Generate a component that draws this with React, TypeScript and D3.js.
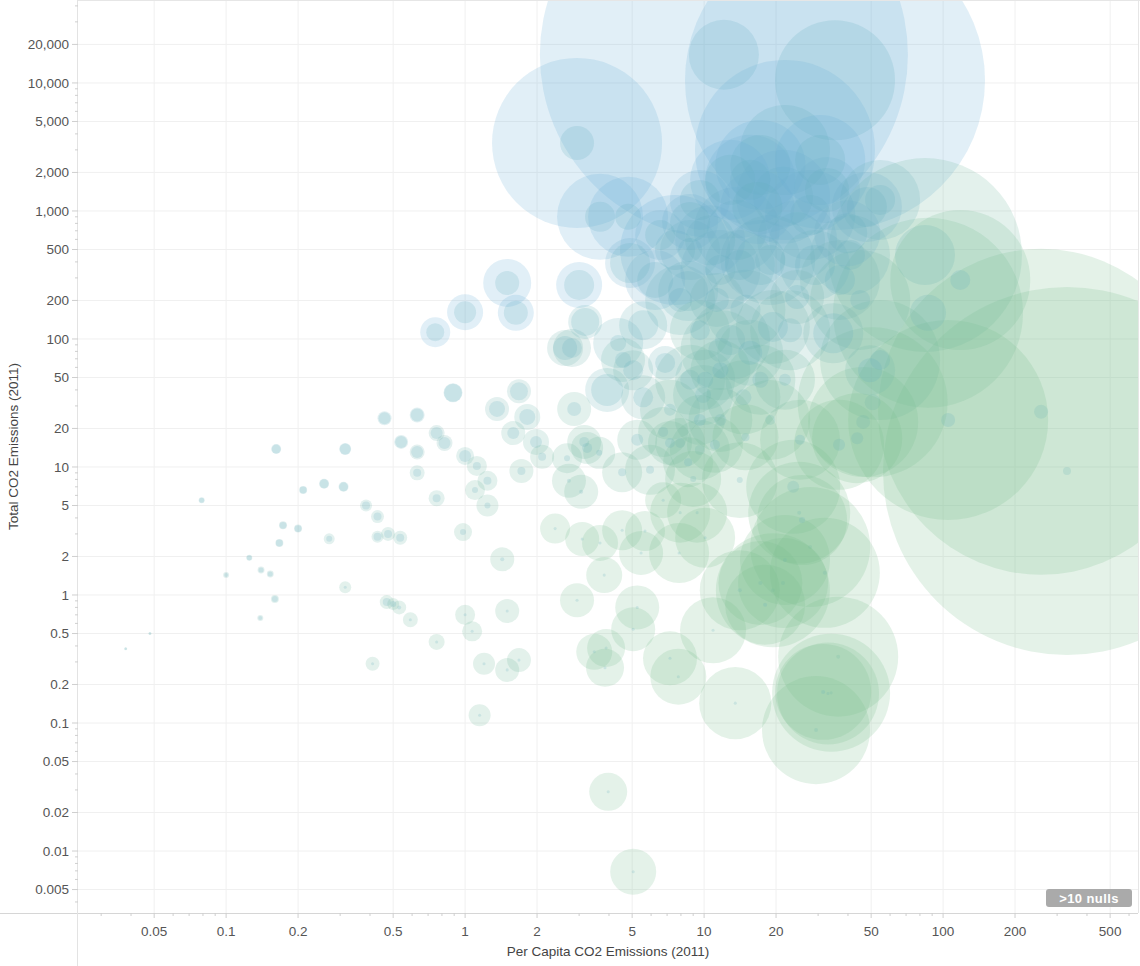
import React, { useEffect, useRef } from "react";
import * as d3 from "d3";

// [per capita, total, outer size, inner size, tone (0 green .. 1 blue)]
type Row = [number, number, number, number, number];

const lowEmitters: Row[] = [
  [0.038, 0.38, 0.023, 0.014, 0.5],
  [0.048, 0.5, 0.023, 0.014, 0.5],
  [0.079, 5.5, 0.09, 0.063, 0.6],
  [0.1, 1.43, 0.09, 0.04, 0.5],
  [0.125, 1.95, 0.09, 0.063, 0.55],
  [0.14, 1.57, 0.12, 0.063, 0.5],
  [0.153, 1.46, 0.12, 0.063, 0.5],
  [0.139, 0.66, 0.09, 0.04, 0.5],
  [0.16, 0.93, 0.16, 0.09, 0.45],
  [0.162, 13.8, 0.25, 0.2, 0.65],
  [0.167, 2.55, 0.16, 0.12, 0.55],
  [0.173, 3.5, 0.16, 0.12, 0.55],
  [0.2, 3.3, 0.16, 0.12, 0.55],
  [0.21, 6.6, 0.16, 0.12, 0.6],
  [0.257, 7.4, 0.25, 0.2, 0.6],
  [0.31, 7.0, 0.25, 0.2, 0.6],
  [0.315, 13.8, 0.36, 0.3, 0.65],
  [0.27, 2.75, 0.3, 0.09, 0.45],
  [0.315, 1.15, 0.36, 0.023, 0.3],
  [0.385, 5.0, 0.36, 0.16, 0.45],
  [0.43, 4.1, 0.42, 0.16, 0.45],
  [0.43, 2.85, 0.36, 0.16, 0.45],
  [0.476, 3.0, 0.49, 0.16, 0.4],
  [0.535, 2.8, 0.49, 0.16, 0.4],
  [0.46, 24, 0.49, 0.36, 0.65],
  [0.63, 25.5, 0.56, 0.42, 0.65],
  [0.54, 15.7, 0.49, 0.36, 0.6],
  [0.63, 13.1, 0.56, 0.36, 0.5],
  [0.63, 9.0, 0.56, 0.16, 0.45],
  [0.76, 18.4, 0.64, 0.36, 0.5],
  [0.82, 15.4, 0.64, 0.36, 0.5],
  [0.76, 5.7, 0.64, 0.16, 0.4],
  [0.89, 38, 0.9, 0.81, 0.65],
  [0.47, 0.88, 0.49, 0.16, 0.3],
  [0.5, 0.85, 0.36, 0.09, 0.3],
  [0.53, 0.8, 0.49, 0.04, 0.25],
  [0.59, 0.64, 0.56, 0.023, 0.25],
  [0.76, 0.43, 0.64, 0.023, 0.2],
  [0.41, 0.29, 0.49, 0.023, 0.25],
];

const midEmitters: Row[] = [
  [0.75, 113, 2.25, 0.81, 1],
  [1.0, 162, 3.24, 1.21, 1],
  [1.5, 274, 5.76, 1.44, 1],
  [1.63, 160, 3.24, 1.44, 1],
  [1.36, 28.4, 1.44, 0.64, 0.5],
  [1.68, 39, 1.44, 0.81, 0.5],
  [1.82, 24.6, 1.69, 0.64, 0.45],
  [1.59, 18.4, 1.44, 0.36, 0.4],
  [1.98, 15.7, 1.69, 0.36, 0.4],
  [2.1, 12, 1.44, 0.16, 0.3],
  [1.0, 12.2, 0.81, 0.36, 0.45],
  [1.12, 10.2, 1.0, 0.16, 0.35],
  [1.24, 7.8, 1.0, 0.16, 0.35],
  [1.1, 6.6, 1.0, 0.09, 0.3],
  [1.24, 5.0, 1.21, 0.09, 0.3],
  [1.72, 9.3, 1.44, 0.16, 0.3],
  [0.98, 3.1, 0.81, 0.09, 0.3],
  [1.43, 1.9, 1.44, 0.04, 0.2],
  [1.0, 0.7, 1.0, 0.023, 0.2],
  [1.07, 0.52, 1.0, 0.023, 0.2],
  [1.5, 0.75, 1.44, 0.023, 0.2],
  [1.2, 0.29, 1.21, 0.023, 0.2],
  [1.5, 0.26, 1.44, 0.023, 0.2],
  [1.68, 0.31, 1.44, 0.023, 0.2],
  [1.15, 0.115, 1.21, 0.023, 0.2],
  [2.86, 28.4, 2.89, 0.49, 0.35],
  [3.18, 136, 2.89, 1.96, 0.6],
  [3.0, 264, 5.29, 2.25, 1],
  [2.8, 85, 3.61, 1.0, 0.5],
  [2.62, 85, 3.24, 1.44, 0.5],
  [5.56, 128, 5.76, 2.25, 0.6],
  [2.94, 3400, 72.25, 2.89, 1],
];

const lowerCluster: Row[] = [
  [3.15, 15.7, 2.89, 0.25, 0.3],
  [3.24, 14.1, 2.56, 0.25, 0.3],
  [2.67, 11.7, 2.25, 0.09, 0.25],
  [2.72, 7.8, 2.89, 0.04, 0.2],
  [3.06, 6.4, 2.89, 0.04, 0.2],
  [3.64, 12.9, 2.56, 0.09, 0.25],
  [4.54, 9.1, 4, 0.16, 0.2],
  [5.25, 16.3, 4, 0.36, 0.3],
  [3.09, 2.74, 2.89, 0.023, 0.1],
  [3.67, 2.55, 3.24, 0.023, 0.1],
  [4.54, 3.2, 4, 0.023, 0.1],
  [5.66, 3.16, 4, 0.023, 0.1],
  [5.45, 2.13, 4.84, 0.023, 0.1],
  [6.74, 5.5, 3.24, 0.023, 0.1],
  [2.94, 0.91, 2.89, 0.023, 0.1],
  [5.25, 0.8, 4.84, 0.023, 0.05],
  [5.05, 0.54, 4.84, 0.023, 0.05],
  [3.89, 0.385, 3.61, 0.023, 0.05],
  [3.47, 0.36, 3.24, 0.023, 0.05],
  [3.85, 0.27, 3.61, 0.023, 0.05],
  [7.2, 0.32, 7.29, 0.023, 0],
  [7.8, 0.23, 7.84, 0.023, 0],
  [3.97, 0.029, 3.61, 0.023, 0.05],
  [5.05, 0.0069, 5.29, 0.023, 0.05],
  [10.9, 0.53, 10.9, 0.023, 0],
  [13.5, 0.143, 13, 0.023, 0],
  [7.94, 4.4, 9, 0.023, 0],
  [9.35, 4.4, 9, 0.023, 0],
  [10.1, 2.8, 9, 0.023, 0],
  [7.86, 2.13, 9, 0.023, 0],
  [6.74, 18.8, 6.25, 0.25, 0.2],
  [7.94, 15.4, 6.25, 0.25, 0.2],
  [7.2, 15.4, 4.84, 0.25, 0.2],
  [8.57, 10.9, 6.25, 0.16, 0.15],
  [14.9, 17.1, 10.9, 0.16, 0.1],
  [14.1, 7.9, 14.4, 0.09, 0.05],
  [14.6, 35, 13.7, 0.64, 0.2],
  [23.6, 7.0, 22.1, 0.36, 0.05],
  [25, 4.4, 26, 0.04, 0],
  [27.8, 2.37, 36, 0.04, 0],
  [17.2, 1.24, 17.6, 0.04, 0],
  [19.4, 1.09, 32.5, 0.04, 0],
  [14.1, 1.09, 16, 0.04, 0],
  [32, 1.49, 30.25, 0.04, 0],
  [36.4, 0.33, 36, 0.04, 0],
  [31.5, 0.175, 23, 0.04, 0],
  [33, 0.17, 26, 0.023, 0],
  [29.4, 0.088, 29.2, 0.04, 0],
  [34, 0.172, 34.8, 0.023, 0],
  [21.4, 1.24, 20.25, 0.04, 0],
  [21.8, 1.88, 20.25, 0.04, 0],
  [18, 0.84, 16, 0.04, 0],
  [9.0, 8.06, 7.84, 0.09, 0.1],
  [2.38, 3.3, 2.25, 0.023, 0.1],
  [3.82, 1.43, 3.24, 0.023, 0.1],
  [18.9, 23.3, 16, 0.25, 0.1],
  [25.2, 16.3, 16, 0.25, 0.1],
  [11.7, 23.3, 10.2, 0.36, 0.2],
  [11.1, 14.9, 7.84, 0.25, 0.15],
  [9.6, 23.3, 6.25, 0.36, 0.25],
  [7.2, 28, 9, 0.36, 0.3],
  [9.6, 13.6, 9, 0.25, 0.2],
  [5.94, 9.5, 6.25, 0.16, 0.2],
];

const upperCluster: Row[] = [
  [3.93, 40, 4.84, 2.56, 0.6],
  [4.58, 68.5, 4.84, 0.64, 0.45],
  [5.05, 57, 4, 1.0, 0.5],
  [6.87, 65, 2.89, 1.0, 0.6],
  [5.56, 35, 4.84, 1.0, 0.5],
  [9.9, 36.5, 9, 0.64, 0.4],
  [10.1, 48, 9, 0.64, 0.45],
  [4.37, 93, 6.25, 0.64, 0.7],
  [8.57, 237, 9, 4, 0.7],
  [7.94, 202, 12.25, 1.44, 0.6],
  [11.3, 202, 7.29, 1.44, 0.55],
  [12.85, 98, 16, 2.25, 0.5],
  [15.6, 78, 10.9, 1.44, 0.45],
  [19.4, 124, 13.7, 2.25, 0.5],
  [24.5, 213, 7.29, 1.44, 0.5],
  [34.7, 111, 9, 4, 0.5],
  [49.5, 57, 6.25, 1.44, 0.4],
  [9.6, 117, 9, 1.0, 0.4],
  [17.2, 48, 12.25, 0.64, 0.3],
  [11.7, 57, 9, 0.64, 0.35],
  [21.8, 48, 9, 0.36, 0.3],
  [14.1, 378, 12.25, 2.25, 0.7],
  [8.74, 496, 9, 1.44, 0.75],
  [18.9, 414, 20.25, 2.25, 0.75],
  [11.7, 346, 16, 2.25, 0.8],
  [40.8, 453, 16, 2.25, 0.6],
  [14.9, 169, 16, 2.25, 0.55],
  [22.9, 117, 16, 1.44, 0.45],
  [11.7, 82, 16, 1.44, 0.4],
  [8.74, 48, 12.25, 1.0, 0.35],
];

const topEmitters: Row[] = [
  [12.1, 16600, 338.6, 12.25, 1],
  [35.3, 10500, 225, 36, 1],
  [21.8, 3000, 81, 20.25, 1],
  [13.7, 710, 18.5, 9, 0.9],
  [21.4, 1290, 22.1, 9, 0.95],
  [32.7, 1460, 10.9, 4.84, 0.9],
  [24.5, 590, 16, 7.84, 0.85],
  [39.7, 670, 10.9, 4, 0.8],
  [16.7, 1075, 13.7, 6.25, 0.95],
  [48, 1075, 12.25, 4, 0.8],
  [10.6, 590, 12.25, 6.25, 0.85],
  [17.2, 414, 16, 6.25, 0.8],
  [9.6, 1220, 9, 4, 0.95],
  [29.1, 378, 12.25, 4, 0.7],
  [12.85, 1750, 16, 6.25, 1],
  [17.2, 2290, 20.25, 9, 1],
  [8.74, 820, 7.84, 4, 0.9],
  [6.55, 650, 6.25, 2.25, 0.9],
  [3.67, 900, 18.5, 2.25, 1],
  [4.81, 900, 16, 1.69, 1],
  [4.9, 392, 6.25, 4, 0.9],
  [6.24, 289, 9, 3.24, 0.85],
  [37, 289, 16, 2.25, 0.5],
  [45, 202, 25, 1.0, 0.3],
  [54.5, 1220, 16, 2.25, 0.6],
  [7.56, 496, 30.25, 4, 1],
  [15.6, 1750, 20.25, 4, 0.95],
  [27.8, 930, 20.25, 4, 0.9],
  [30.6, 2500, 20.25, 6.25, 1],
];

const highPerCapita: Row[] = [
  [257, 27, 265.7, 0.49, 0],
  [330, 9.3, 338.6, 0.16, 0],
  [84, 453, 94, 9, 0.3],
  [86.5, 160, 90.25, 3.24, 0.15],
  [105, 23.3, 100, 0.49, 0],
  [50.7, 32, 56.25, 0.64, 0.05],
  [46.3, 22.5, 30.25, 0.49, 0.05],
  [43.7, 16.8, 20.25, 0.36, 0],
  [36.7, 14.9, 20.25, 0.36, 0],
  [54.5, 68.5, 36, 1.0, 0.2],
  [25.7, 3.85, 20.25, 0.09, 0],
  [118, 289, 49, 1.0, 0.15],
];

const xTickValues = [0.05, 0.1, 0.2, 0.5, 1, 2, 5, 10, 20, 50, 100, 200, 500];
const yTickValues = [
  0.005, 0.01, 0.02, 0.05, 0.1, 0.2, 0.5, 1, 2, 5, 10, 20, 50, 100, 200, 500,
  1000, 2000, 5000, 10000, 20000,
];
const xTitle = "Per Capita CO2 Emissions (2011)";
const yTitle = "Total CO2 Emissions (2011)";
const nullsLabel = ">10 nulls";

const width = 1140;
const height = 966;
const margin = { top: 0, right: 2, bottom: 53, left: 78 };
const font = "'Liberation Sans', Arial, sans-serif";

// minor ticks at every integer multiple inside each decade
const minorTicks = (domain: number[], majors: number[]) => {
  const out: number[] = [];
  for (let k = -4; k <= 5; k++) {
    for (let m = 1; m <= 9; m++) {
      const v = +(m * Math.pow(10, k)).toPrecision(6);
      if (v < domain[0] || v > domain[1]) continue;
      if (majors.some((t) => Math.abs(t - v) / v < 1e-6)) continue;
      out.push(v);
    }
  }
  return out;
};

const App = () => {
  const svgRef = useRef<SVGSVGElement>(null);

  useEffect(() => {
    const svg = d3.select(svgRef.current);
    svg.selectAll("*").remove();

    const plotW = width - margin.right;
    const plotH = height - margin.bottom;

    const x = d3.scaleLog().domain([0.024, 654]).range([margin.left, plotW]);
    const y = d3.scaleLog().domain([0.00328, 44460]).range([plotH, margin.top]);
    const r = d3.scaleSqrt().domain([0, 400]).range([0, 200]);
    const tone = d3.interpolateRgb("rgb(120,190,140)", "rgb(107,174,214)");

    svg
      .append("defs")
      .append("clipPath")
      .attr("id", "plot-clip")
      .append("rect")
      .attr("x", margin.left)
      .attr("y", 0)
      .attr("width", plotW - margin.left)
      .attr("height", plotH);

    // grid
    const grid = svg.append("g");
    grid
      .selectAll(".vg")
      .data(xTickValues)
      .join("line")
      .attr("x1", (d) => x(d))
      .attr("x2", (d) => x(d))
      .attr("y1", 0)
      .attr("y2", plotH)
      .attr("stroke", "#f0f0f0");
    grid
      .selectAll(".hg")
      .data(yTickValues)
      .join("line")
      .attr("x1", margin.left)
      .attr("x2", plotW)
      .attr("y1", (d) => y(d))
      .attr("y2", (d) => y(d))
      .attr("stroke", "#f0f0f0");

    // bubbles
    const rows = [
      ...lowEmitters,
      ...midEmitters,
      ...lowerCluster,
      ...upperCluster,
      ...topEmitters,
      ...highPerCapita,
    ].sort((a, b) => b[2] - a[2]);

    const marks = svg.append("g").attr("clip-path", "url(#plot-clip)");
    const pts = marks.selectAll("g").data(rows).join("g");
    pts
      .append("circle")
      .attr("cx", (d) => x(d[0]))
      .attr("cy", (d) => y(d[1]))
      .attr("r", (d) => r(d[2]))
      .attr("fill", (d) => tone(d[4]))
      .attr("fill-opacity", 0.2);
    pts
      .append("circle")
      .attr("cx", (d) => x(d[0]))
      .attr("cy", (d) => y(d[1]))
      .attr("r", (d) => r(d[3]))
      .attr("fill", "rgb(100,176,188)")
      .attr("fill-opacity", 0.2);

    // axes
    svg
      .append("line")
      .attr("x1", 0)
      .attr("x2", plotW)
      .attr("y1", plotH + 0.5)
      .attr("y2", plotH + 0.5)
      .attr("stroke", "#d6d6d6");
    svg
      .append("line")
      .attr("x1", margin.left - 0.5)
      .attr("x2", margin.left - 0.5)
      .attr("y1", 0)
      .attr("y2", height)
      .attr("stroke", "#e3e3e3");
    svg
      .append("line")
      .attr("x1", margin.left)
      .attr("x2", width)
      .attr("y1", 0.5)
      .attr("y2", 0.5)
      .attr("stroke", "#e6e6e6");
    svg
      .append("line")
      .attr("x1", plotW + 0.5)
      .attr("x2", plotW + 0.5)
      .attr("y1", 0)
      .attr("y2", plotH)
      .attr("stroke", "#e6e6e6");

    const ticks = svg.append("g").attr("stroke", "#cfcfcf");
    ticks
      .selectAll(".xt")
      .data(xTickValues)
      .join("line")
      .attr("x1", (d) => x(d))
      .attr("x2", (d) => x(d))
      .attr("y1", plotH)
      .attr("y2", plotH + 5);
    ticks
      .selectAll(".xm")
      .data(minorTicks(x.domain(), xTickValues))
      .join("line")
      .attr("x1", (d) => x(d))
      .attr("x2", (d) => x(d))
      .attr("y1", plotH)
      .attr("y2", plotH + 3);
    ticks
      .selectAll(".yt")
      .data(yTickValues)
      .join("line")
      .attr("x1", margin.left - 6)
      .attr("x2", margin.left)
      .attr("y1", (d) => y(d))
      .attr("y2", (d) => y(d));
    ticks
      .selectAll(".ym")
      .data(minorTicks(y.domain(), yTickValues))
      .join("line")
      .attr("x1", margin.left - 3)
      .attr("x2", margin.left)
      .attr("y1", (d) => y(d))
      .attr("y2", (d) => y(d));

    const fmt = d3.format(",");
    svg
      .append("g")
      .selectAll("text")
      .data(xTickValues)
      .join("text")
      .attr("x", (d) => x(d))
      .attr("y", plotH + 23)
      .attr("text-anchor", "middle")
      .attr("font-family", font)
      .attr("font-size", 13.5)
      .attr("fill", "#555")
      .text((d) => fmt(d));
    svg
      .append("g")
      .selectAll("text")
      .data(yTickValues)
      .join("text")
      .attr("x", margin.left - 9)
      .attr("y", (d) => y(d))
      .attr("dy", "0.35em")
      .attr("text-anchor", "end")
      .attr("font-family", font)
      .attr("font-size", 13.5)
      .attr("fill", "#555")
      .text((d) => fmt(d));

    svg
      .append("text")
      .attr("x", (margin.left + plotW) / 2)
      .attr("y", 956)
      .attr("text-anchor", "middle")
      .attr("font-family", font)
      .attr("font-size", 13.5)
      .attr("fill", "#444")
      .text(xTitle);
    svg
      .append("text")
      .attr("transform", `translate(18, ${y(20) + 18}) rotate(-90)`)
      .attr("text-anchor", "middle")
      .attr("font-family", font)
      .attr("font-size", 13.5)
      .attr("fill", "#444")
      .text(yTitle);

    // nulls badge
    const badge = svg.append("g").attr("transform", "translate(1046, 889)");
    badge
      .append("rect")
      .attr("width", 86)
      .attr("height", 18)
      .attr("rx", 3)
      .attr("fill", "#aaaaaa");
    badge
      .append("text")
      .attr("x", 43)
      .attr("y", 13.5)
      .attr("text-anchor", "middle")
      .attr("font-family", font)
      .attr("font-size", 13)
      .attr("font-weight", 600)
      .attr("letter-spacing", 0.4)
      .attr("fill", "#fff")
      .text(nullsLabel);
  }, []);

  return (
    <svg
      ref={svgRef}
      width={width}
      height={height}
      style={{ position: "absolute", left: 0, top: 0, background: "#fff" }}
    />
  );
};

export default App;
